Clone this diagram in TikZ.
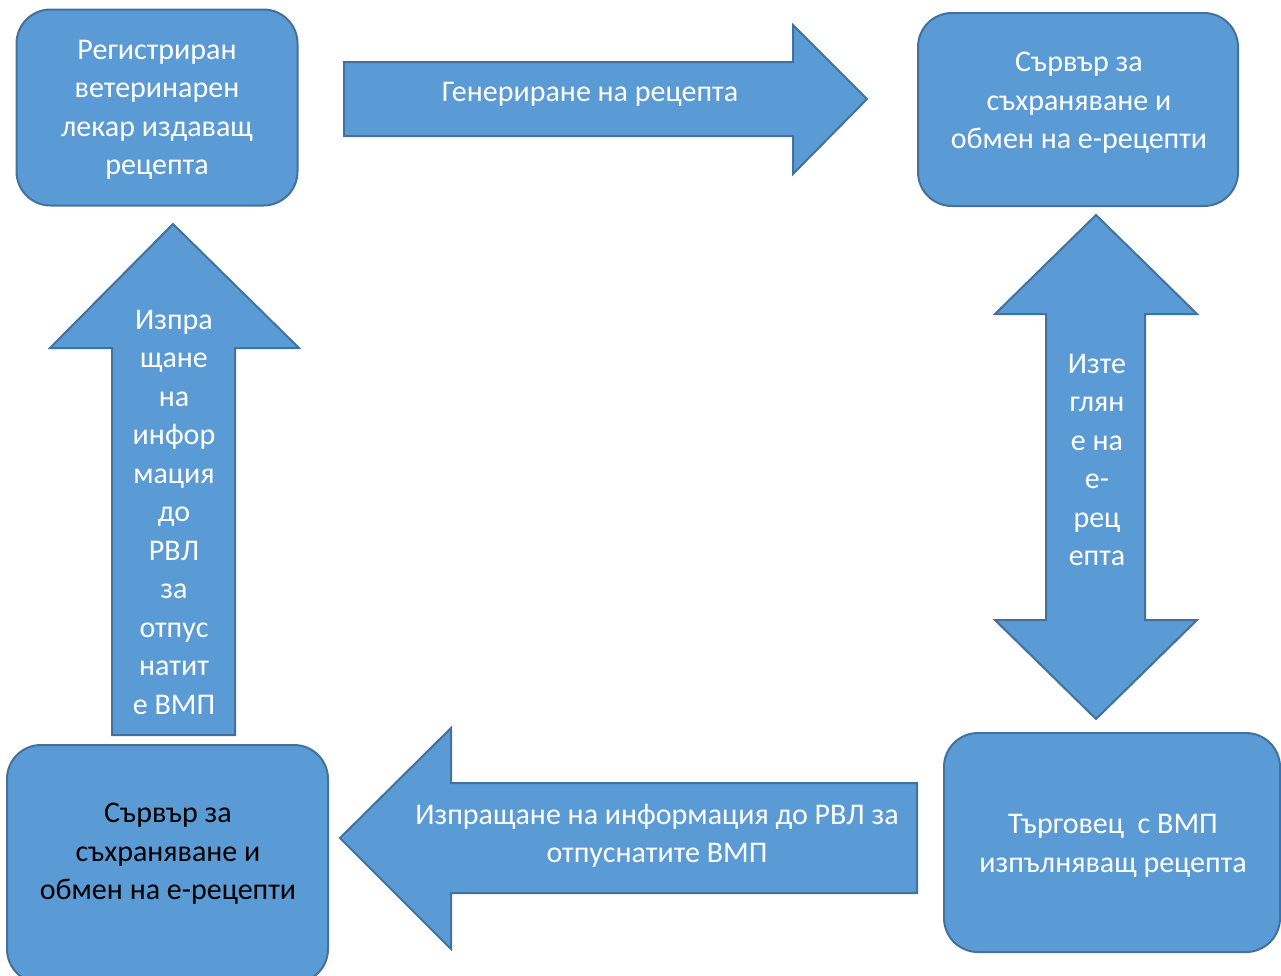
\documentclass[tikz,border=0pt]{standalone}
\usepackage{fontspec}
\setmainfont{Carlito}
\definecolor{fillb}{HTML}{5B9BD5}
\definecolor{edgeb}{HTML}{41719C}
\begin{document}
\begin{tikzpicture}[x=1pt,y=-1pt,
  box/.style={draw=edgeb, fill=fillb, line width=2pt, rounded corners=34pt, inner sep=0pt},
  blockarrow/.style={draw=edgeb, fill=fillb, line width=2pt, line join=miter},
  lbl/.style={align=center, font=\fontsize{30}{38.5}\selectfont, text=white, inner sep=0pt},
  lblk/.style={lbl, text=black},
]
\useasboundingbox (0,0) rectangle (1281,975);
\begin{scope}
\clip (0,0) rectangle (1281,975);
% boxes
\node[box, minimum width=281pt, minimum height=196pt] (b1) at (157,107.5) {};
\node[box, minimum width=320pt, minimum height=193pt] (b2) at (1078,109.5) {};
\node[box, minimum width=336pt, minimum height=219pt] (b3) at (1112,842.5) {};
\node[box, minimum width=321pt, minimum height=238pt] (b4) at (167.5,864) {};
% block arrows
\draw[blockarrow] (344,62) -- (793,62) -- (793,25) -- (867,99) -- (793,174) -- (793,136) -- (344,136) -- cycle;
\draw[blockarrow] (1096,215) -- (1197,314) -- (1145,314) -- (1145,620) -- (1197,620) -- (1096,719) -- (995,620) -- (1046,620) -- (1046,314) -- (995,314) -- cycle;
\draw[blockarrow] (340,838) -- (451,728) -- (451,783) -- (917,783) -- (917,893) -- (451,893) -- (451,949) -- cycle;
\draw[blockarrow] (173,224) -- (299,348) -- (235,348) -- (235,735) -- (112,735) -- (112,348) -- (50,348) -- cycle;
\end{scope}
% texts
\node[lbl] (t1) at (157,110) {Регистриран\\ветеринарен\\лекар издаващ\\рецепта};
\node[lbl] (t2) at (1079,103) {Сървър за\\съхраняване и\\обмен на е-рецепти};
\node[lbl] (t3) at (1113,846) {Търговец\ \ с ВМП\\изпълняващ рецепта};
\node[lblk] (t4) at (168,854) {Сървър за\\съхраняване и\\обмен на е-рецепти};
\node[lbl] (a1) at (590,94) {Генериране на рецепта};
\node[lbl] (a2) at (1097,460) {Изте\\глян\\е на\\е-\\рец\\епта};
\node[lbl] (a3) at (657,836) {Изпращане на информация до РВЛ за\\отпуснатите ВМП};
\node[lbl] (a4) at (174,512) {Изпра\\щане\\на\\инфор\\мация\\до\\РВЛ\\за\\отпус\\натит\\е ВМП};
\end{tikzpicture}
\end{document}
